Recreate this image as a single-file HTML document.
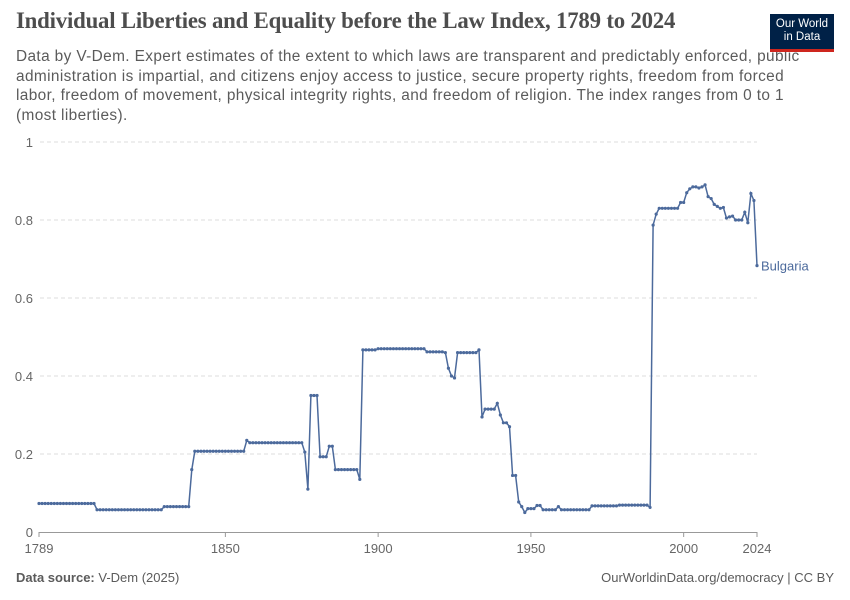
<!DOCTYPE html>
<html><head><meta charset="utf-8">
<style>
body{margin:0;background:#fff;font-family:"Liberation Sans",sans-serif;}
#wrap{position:relative;width:850px;height:600px;overflow:hidden}
h1{position:absolute;left:16px;top:8px;margin:0;font-family:"Liberation Serif",serif;font-weight:bold;font-size:22.8px;color:#4d4d4d;letter-spacing:-0.2px}
#sub{position:absolute;left:16px;top:47px;width:800px;font-size:15.4px;line-height:19.5px;color:#5b5b5b;letter-spacing:0.38px}
#logo{position:absolute;left:770px;top:14px;width:64px;height:38px;background:#002147;color:#fff;font-size:11.5px;line-height:13px;text-align:center;padding-top:4px;box-sizing:border-box;border-bottom:3px solid #ce261e;z-index:2}
.foot{position:absolute;top:570px;font-size:13px;color:#5b5b5b}
</style></head><body>
<div id="wrap">
<h1>Individual Liberties and Equality before the Law Index, 1789 to 2024</h1>
<div id="sub">Data by V-Dem. Expert estimates of the extent to which laws are transparent and predictably enforced, public administration is impartial, and citizens enjoy access to justice, secure property rights, freedom from forced labor, freedom of movement, physical integrity rights, and freedom of religion. The index ranges from 0 to 1 (most liberties).</div>
<div id="logo">Our World<br>in Data</div>
<svg id="chart" width="850" height="600" style="position:absolute;left:0;top:0"></svg>
<div class="foot" style="left:16px"><b>Data source:</b> V-Dem (2025)</div>
<div class="foot" style="right:16px">OurWorldinData.org/democracy | CC BY</div>
</div>
<script>
const runStartYears=[1789,1808,1830,1839,1840,1857,1858,1876,1877,1878,1881,1884,1886,1894,1895,1900,1916,1922,1923,1924,1925,1926,1933,1934,1935,1939,1940,1941,1943,1944,1946,1947,1948,1949,1952,1954,1959,1960,1970,1979,1989,1990,1991,1992,1999,2001,2002,2003,2005,2006,2007,2008,2009,2010,2011,2012,2013,2014,2015,2016,2017,2020,2021,2022,2023,2024];
const runValues=[0.073,0.057,0.065,0.16,0.207,0.235,0.229,0.205,0.11,0.35,0.193,0.22,0.16,0.135,0.467,0.47,0.462,0.46,0.42,0.40,0.395,0.46,0.467,0.295,0.315,0.33,0.30,0.28,0.27,0.145,0.077,0.065,0.05,0.06,0.068,0.057,0.065,0.057,0.067,0.069,0.063,0.787,0.815,0.83,0.845,0.87,0.88,0.885,0.882,0.885,0.89,0.86,0.855,0.84,0.835,0.83,0.832,0.805,0.808,0.81,0.80,0.82,0.793,0.868,0.85,0.683];
const xTicks=[1789,1850,1900,1950,2000,2024];
const yTicks=[0,0.2,0.4,0.6,0.8,1];
const seriesName='Bulgaria';
const lastYear=2024;

const svg=document.getElementById('chart');const NS='http://www.w3.org/2000/svg';
const xS=yr=>39+(yr-1789)*(757-39)/(2024-1789);
const yS=v=>532-v*390;
function el(t,a){const e=document.createElementNS(NS,t);for(const k in a)e.setAttribute(k,a[k]);svg.appendChild(e);return e;}
yTicks.forEach(t=>{
  if(t>0){const g=el('line',{x1:40,x2:757,y1:yS(t),y2:yS(t),stroke:'#ddd','stroke-dasharray':'4,3'});
  
  }
  const tx=el('text',{x:33,y:yS(t)+5,'text-anchor':'end','font-size':13,fill:'#666','font-family':'Liberation Sans'});
  tx.textContent=t;
  
  
});
const ax=el('line',{x1:39,x2:757,y1:532.5,y2:532.5,stroke:'#999'});


xTicks.forEach(t=>{
  const tk=el('line',{x1:xS(t),x2:xS(t),y1:532,y2:537,stroke:'#999'});
  
  
  const tx=el('text',{x:xS(t),y:553,'text-anchor':'middle','font-size':13,fill:'#666','font-family':'Liberation Sans'});
  tx.textContent=t;
  
  
});
const years=[],vals=[];
for(let i=0;i<runStartYears.length;i++){const end=i+1<runStartYears.length?runStartYears[i+1]:lastYear+1;for(let yr=runStartYears[i];yr<end;yr++){years.push(yr);vals.push(runValues[i]);}}
const pts=years.map((yr,i)=>xS(yr).toFixed(1)+','+yS(vals[i]).toFixed(1)).join(' ');
const line=el('polyline',{points:pts,fill:'none',stroke:'#4c6a9c','stroke-width':1.5});


years.forEach((yr,i)=>{const c=el('circle',{cx:xS(yr),cy:yS(vals[i]),r:1.6,fill:'#4c6a9c'});
  
  });
const lastVal=runValues[runValues.length-1];
const lb=document.createElementNS(NS,'text');
lb.setAttribute('x',(xS(lastYear)+4).toFixed(1));
lb.setAttribute('y',(yS(lastVal)+5).toFixed(1));
lb.setAttribute('font-size','13');
lb.setAttribute('fill','#4c6a9c');
lb.setAttribute('font-family','Liberation Sans');
lb.textContent=seriesName;


svg.appendChild(lb);
</script>
</body></html>
